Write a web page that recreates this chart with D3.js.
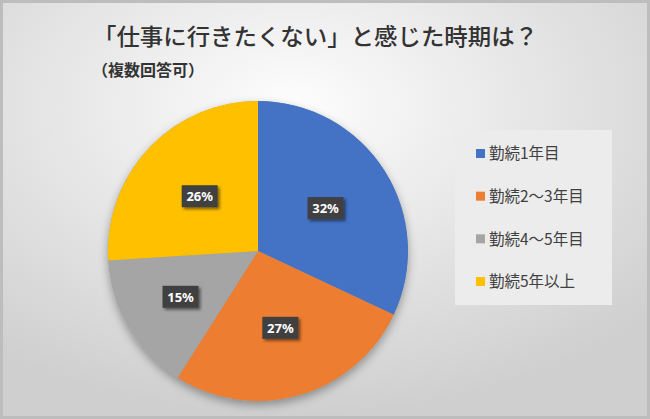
<!DOCTYPE html>
<html>
<head>
<meta charset="utf-8">
<script src="https://cdn.jsdelivr.net/npm/d3@7"></script>
<style>
  html, body { margin: 0; padding: 0; }
  body { width: 650px; height: 419px; overflow: hidden; font-family: "Noto Sans CJK JP", "Noto Sans", sans-serif; }
</style>
</head>
<body>
<svg id="chart" width="650" height="419"></svg>
<script>
// chart data
const categories = ["勤続1年目", "勤続2〜3年目", "勤続4〜5年目", "勤続5年以上"];
const shares = [32, 27, 15, 26];
const colors = ["#4472c4", "#ed7d31", "#a5a5a5", "#ffc000"];
const titleText = "「仕事に行きたくない」と感じた時期は？";
const subtitleText = "（複数回答可）";

const width = 650, height = 419;
const cx = 258, cy = 251, radius = 150;

const svg = d3.select("#chart");
const defs = svg.append("defs");

// background gradient, light near the top middle
const bg = defs.append("radialGradient")
  .attr("id", "bg")
  .attr("cx", "45%").attr("cy", "25%").attr("r", "75%");
bg.append("stop").attr("offset", "0%").attr("stop-color", "#fdfdfd");
bg.append("stop").attr("offset", "100%").attr("stop-color", "#cfcfcf");

const shadow = defs.append("filter").attr("id", "shadow")
  .attr("x", "-20%").attr("y", "-20%").attr("width", "140%").attr("height", "140%");
shadow.append("feDropShadow").attr("dx", 0).attr("dy", 4).attr("stdDeviation", 5)
  .attr("flood-color", "#000").attr("flood-opacity", 0.35);

const boxShadow = defs.append("filter").attr("id", "boxShadow")
  .attr("x", "-30%").attr("y", "-30%").attr("width", "160%").attr("height", "160%");
boxShadow.append("feDropShadow").attr("dx", 2).attr("dy", 2).attr("stdDeviation", 1.5)
  .attr("flood-color", "#000").attr("flood-opacity", 0.5);

svg.append("rect").attr("width", width).attr("height", height).attr("fill", "#bdbdbd");
svg.append("rect").attr("x", 3).attr("y", 3)
  .attr("width", width - 6).attr("height", height - 6).attr("fill", "url(#bg)");

// titles
svg.append("text")
  .attr("x", 93).attr("y", 45)
  .attr("font-size", 23).attr("font-weight", 500)
  .attr("fill", "#333")
  .attr("textLength", 445).attr("lengthAdjust", "spacingAndGlyphs")
  .text(titleText);

svg.append("text")
  .attr("x", 92).attr("y", 76)
  .attr("font-size", 16).attr("font-weight", 700)
  .attr("fill", "#333")
  .text(subtitleText);

// pie
const pie = d3.pie().value(d => d).sort(null);
const arc = d3.arc().innerRadius(0).outerRadius(radius);
const labelArc = d3.arc().innerRadius(80).outerRadius(80);
const arcs = pie(shares);

const g = svg.append("g").attr("transform", `translate(${cx},${cy})`);

g.append("circle").attr("r", radius).attr("fill", "#999").attr("filter", "url(#shadow)");

g.selectAll("path.slice")
  .data(arcs)
  .enter()
  .append("path")
  .attr("class", "slice")
  .attr("d", arc)
  .attr("fill", (d, i) => colors[i]);

// data labels (small slice label sits a bit further out, like Excel's best fit)
const labels = g.selectAll("g.label")
  .data(arcs)
  .enter()
  .append("g")
  .attr("class", "label")
  .attr("transform", d => {
    const r = d.data < 20 ? 90 : 80;
    const a = (d.startAngle + d.endAngle) / 2;
    return `translate(${Math.sin(a) * r},${-Math.cos(a) * r})`;
  });

labels.append("rect")
  .attr("x", -18).attr("y", -11)
  .attr("width", 36).attr("height", 22)
  .attr("fill", "#404040")
  .attr("filter", "url(#boxShadow)");

labels.append("text")
  .attr("text-anchor", "middle")
  .attr("dy", "0.36em")
  .attr("font-size", 13).attr("font-weight", 700)
  .attr("fill", "#fff")
  .attr("font-family", "'Noto Sans', sans-serif")
  .text(d => d.data + "%");

// legend
svg.append("rect")
  .attr("x", 455).attr("y", 130)
  .attr("width", 157).attr("height", 175)
  .attr("fill", "#ececec");

const legendY = d3.scalePoint().domain(categories).range([154, 282]);

const legend = svg.selectAll("g.legend")
  .data(categories)
  .enter()
  .append("g")
  .attr("class", "legend")
  .attr("transform", d => `translate(476,${legendY(d)})`);

legend.append("rect")
  .attr("x", 0).attr("y", -5)
  .attr("width", 9).attr("height", 9)
  .attr("fill", (d, i) => colors[i]);

legend.append("text")
  .attr("x", 13).attr("dy", "0.35em")
  .attr("font-size", 15.5)
  .attr("fill", "#404040")
  .text(d => d);
</script>
</body>
</html>
